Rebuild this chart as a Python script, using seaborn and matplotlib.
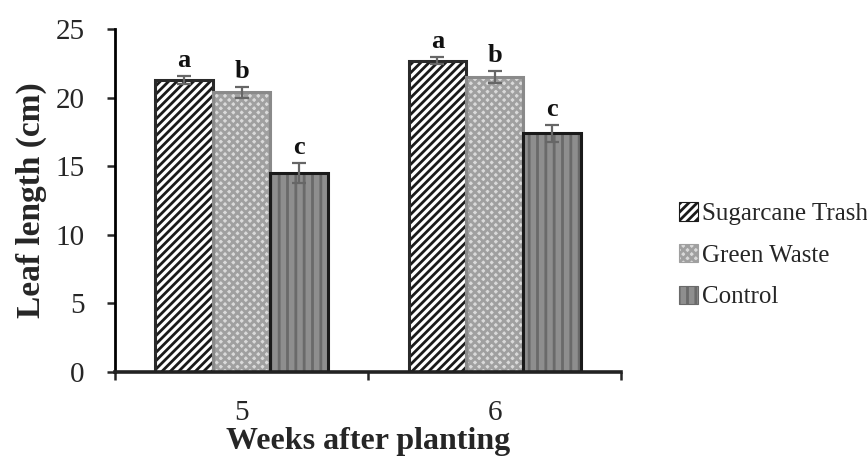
import matplotlib
matplotlib.use("Agg")
import matplotlib.pyplot as plt
import matplotlib.patches as mpatches
import seaborn as sns
import pandas as pd

weeks = ["5", "6"]
treatments = ["Sugarcane Trash", "Green Waste", "Control"]
sugarcane = [21.3, 22.7]
green = [20.4, 21.5]
control = [14.5, 17.4]
err_sugarcane = [0.3, 0.25]
err_green = [0.4, 0.45]
err_control = [0.7, 0.6]
letters_sugarcane = ["a", "a"]
letters_green = ["b", "b"]
letters_control = ["c", "c"]

sns.set_theme(style="white")
plt.rcParams["font.family"] = ["Liberation Serif", "DejaVu Serif"]
plt.rcParams["hatch.linewidth"] = 2.0

rows = []
for vals, errs, lets, t in [(sugarcane, err_sugarcane, letters_sugarcane, treatments[0]),
                            (green, err_green, letters_green, treatments[1]),
                            (control, err_control, letters_control, treatments[2])]:
    for w, v, e, l in zip(weeks, vals, errs, lets):
        rows.append({"Week": w, "Treatment": t, "Length": v, "Err": e, "Letter": l})
df = pd.DataFrame(rows)

fig = plt.figure(figsize=(8.67, 4.62), dpi=100)
ax = fig.add_axes([0.1326, 0.195, 0.584, 0.742])

sns.barplot(data=df, x="Week", y="Length", hue="Treatment", order=weeks,
            hue_order=treatments, errorbar=None, width=0.68, ax=ax, legend=False)

styles = {
    "Sugarcane Trash": dict(facecolor="white", edgecolor="#1a1a1a", hatch="////"),
    "Green Waste": dict(facecolor="#dadada", edgecolor="#a0a0a0", hatch="xxxx"),
    "Control": dict(facecolor="#8e8e8e", edgecolor="#6a6a6a", hatch="||"),
}
outline = {"Sugarcane Trash": "#2a2a2a", "Green Waste": "#8a8a8a", "Control": "#1a1a1a"}

for cont, t in zip(ax.containers, treatments):
    sub = df[df["Treatment"] == t].set_index("Week").loc[weeks]
    for bar, (_, r) in zip(cont, sub.iterrows()):
        bar.set_facecolor(styles[t]["facecolor"])
        bar.set_edgecolor(styles[t]["edgecolor"])
        bar.set_hatch(styles[t]["hatch"])
        bar.set_linewidth(0)
        ol = mpatches.Rectangle((bar.get_x(), bar.get_y()), bar.get_width(), bar.get_height(),
                                fill=False, edgecolor=outline[t], linewidth=2.2,
                                zorder=bar.get_zorder() + 0.1)
        ax.add_patch(ol)
        xc = bar.get_x() + bar.get_width() / 2
        ax.errorbar(xc, r["Length"], yerr=r["Err"], fmt="none", ecolor="#666666",
                    elinewidth=1.6, capsize=5, capthick=1.6, zorder=5)
        ax.text(xc, r["Length"] + r["Err"] + 0.3, r["Letter"], ha="center", va="bottom",
                fontsize=19, fontweight="bold", color="#111111")

ax.set_ylim(0, 25)
ax.set_yticks([0, 5, 10, 15, 20, 25])
ax.set_xlim(-0.5, 1.5)
ax.set_xticks([-0.5, 0.5, 1.5], minor=True)
ax.tick_params(axis="x", which="major", length=0, pad=20, labelsize=21)
ax.tick_params(axis="x", which="minor", length=6, width=1.8, direction="out", bottom=True)
ax.tick_params(axis="y", which="major", length=6, width=1.8, direction="out", left=True,
               labelsize=21, pad=16)
for side in ["top", "right"]:
    ax.spines[side].set_visible(False)
ax.spines["left"].set_linewidth(2)
ax.spines["bottom"].set_linewidth(2.6)
ax.spines["left"].set_color("black")
ax.spines["bottom"].set_color("#222222")

ax.set_xlabel("Weeks after planting", fontsize=23, fontweight="bold", labelpad=1)
ax.set_ylabel("Leaf length (cm)", fontsize=24, fontweight="bold", labelpad=6)

handles = [mpatches.Patch(facecolor=styles[t]["facecolor"], edgecolor=styles[t]["edgecolor"],
                          hatch=styles[t]["hatch"], linewidth=0.8, label=t) for t in treatments]
ax.legend(handles=handles, loc="center left", bbox_to_anchor=(1.095, 0.34), frameon=False,
          fontsize=18, handlelength=0.75, handleheight=0.75, handletextpad=0.15, labelspacing=0.75,
          borderaxespad=0.0)

fig.savefig("out.png", dpi=100)
